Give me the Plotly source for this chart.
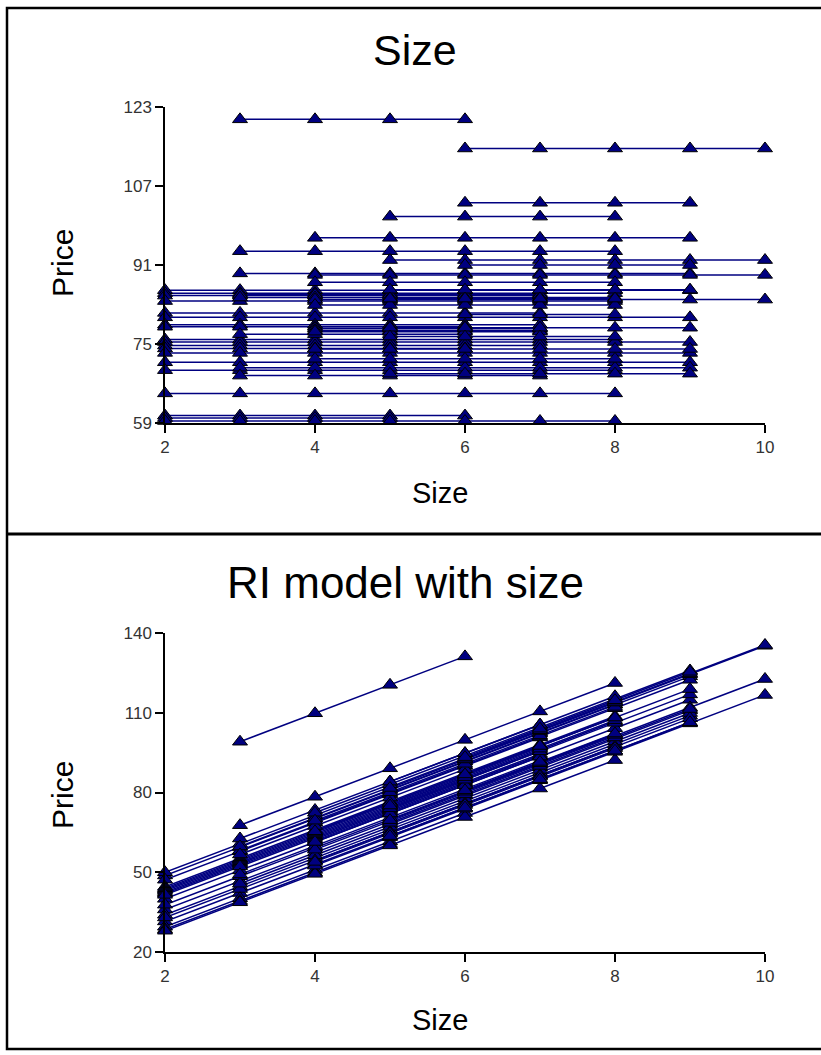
import plotly.graph_objects as go

# ---------------- data ----------------
# one entry per subject: first size, last size, observed (constant) price
subject_start_size = [2, 2, 2, 2, 2, 2, 2, 2, 2, 2, 2, 2, 2, 2, 2, 2, 2, 2, 2,
                      3, 3, 3, 3, 3, 3, 3, 3,
                      4, 4, 4, 4, 4, 4, 4, 4, 4, 4,
                      5, 5, 5, 5, 5, 5, 5,
                      6, 6, 6, 6]
subject_end_size = [9, 8, 7, 8, 7, 9, 7, 6, 8, 9, 7, 6, 9, 9, 8, 8, 6, 5, 8,
                    6, 8, 9, 7, 8, 6, 9, 7,
                    9, 10, 10, 8, 7, 7, 7, 8, 9, 8,
                    8, 10, 9, 8, 9, 8, 9,
                    10, 9, 9, 8]
subject_price = [85.9, 85.3, 84.8, 83.7, 81.3, 80.4, 78.9, 78.5, 75.9, 75.4,
                 74.7, 74.1, 73.2, 71.3, 69.7, 65.0, 60.5, 60.0, 59.4,
                 120.5, 93.8, 89.3, 85.0, 84.4, 77.0, 70.2, 68.6,
                 96.5, 89.0, 84.0, 87.5, 78.2, 77.8, 77.5, 82.9, 74.0, 72.0,
                 100.8, 92.0, 86.0, 84.2, 78.3, 76.5, 69.0,
                 114.6, 103.6, 91.0, 81.0]
# random-intercept model: fitted price of each subject at size 2, common size slope
ri_fit_at_size2 = [48.8, 50.0, 47.2, 44.5, 44.0, 40.0, 43.5, 43.0, 42.5, 36.0,
                   42.0, 41.5, 34.0, 31.5, 37.8, 33.0, 29.5, 28.5, 28.0,
                   88.4, 57.0, 47.5, 52.0, 49.0, 46.0, 35.0, 38.5,
                   51.0, 37.1, 31.1, 48.0, 41.0, 40.5, 40.0, 44.0, 33.0, 32.5,
                   52.0, 49.6, 42.0, 43.0, 36.5, 37.5, 31.5,
                   49.9, 50.5, 44.0, 38.0]
ri_size_slope = 10.7

top_y_ticks = [59, 75, 91, 107, 123]
bottom_y_ticks = [20, 50, 80, 110, 140]
x_ticks = [2, 4, 6, 8, 10]

# ---------------- build traces ----------------
W, H = 821, 1055


def fx(x):
    return x / W


def fy(y):
    return 1 - y / H


xs_top, ys_top, xs_bot, ys_bot = [], [], [], []
for s, e, p, a in zip(subject_start_size, subject_end_size, subject_price, ri_fit_at_size2):
    sizes = list(range(s, e + 1))
    xs_top += sizes + [None]
    ys_top += [p] * len(sizes) + [None]
    xs_bot += sizes + [None]
    ys_bot += [a + ri_size_slope * (z - 2) for z in sizes] + [None]

NAVY = "#000080"
line_style = dict(color=NAVY, width=1.5)
marker_style = dict(symbol="triangle-up", size=13, color=NAVY,
                    line=dict(color="black", width=1))

fig = go.Figure()
fig.add_trace(go.Scatter(x=xs_top, y=ys_top, mode="lines+markers", line=line_style,
                         marker=marker_style, cliponaxis=False, connectgaps=False,
                         showlegend=False, xaxis="x", yaxis="y"))
fig.add_trace(go.Scatter(x=xs_bot, y=ys_bot, mode="lines+markers", line=line_style,
                         marker=marker_style, cliponaxis=False, connectgaps=False,
                         showlegend=False, xaxis="x2", yaxis="y2"))

FONT = "Liberation Sans, Arial, sans-serif"
tickfont = dict(family=FONT, size=17, color="#333333")
axis_common = dict(showline=True, linecolor="black", linewidth=1.5, ticks="outside",
                   ticklen=8, tickwidth=1.5, tickcolor="black", showgrid=False,
                   zeroline=False, tickfont=tickfont, fixedrange=True, automargin=False)

xdom = [fx(165), fx(765)]
fig.update_layout(
    width=W, height=H,
    margin=dict(l=0, r=0, t=0, b=0, pad=0, autoexpand=False),
    paper_bgcolor="white", plot_bgcolor="white",
    xaxis=dict(domain=xdom, range=[2, 10], tickvals=x_ticks, anchor="y", **axis_common),
    yaxis=dict(domain=[fy(423), fy(107)], range=[59, 123], tickvals=top_y_ticks,
               anchor="x", **axis_common),
    xaxis2=dict(domain=xdom, range=[2, 10], tickvals=x_ticks, anchor="y2", **axis_common),
    yaxis2=dict(domain=[fy(952), fy(633)], range=[20, 140], tickvals=bottom_y_ticks,
                anchor="x2", **axis_common),
)

# frame and divider
fig.add_shape(type="rect", xref="paper", yref="paper", x0=fx(7), x1=fx(823),
              y0=fy(1049), y1=fy(8), line=dict(color="black", width=2.5))
fig.add_shape(type="line", xref="paper", yref="paper", x0=fx(7), x1=fx(823),
              y0=fy(534), y1=fy(534), line=dict(color="black", width=3))

ann = [
    ("Size", 415, 50, 43, 0),
    ("Price", 62, 263, 30, -90),
    ("Size", 440, 493, 29, 0),
    ("RI model with size", 405, 582, 44, 0),
    ("Price", 62, 795, 30, -90),
    ("Size", 440, 1020, 29, 0),
]
for text, x, y, size, ang in ann:
    fig.add_annotation(text=text, x=fx(x), y=fy(y), xref="paper", yref="paper",
                       showarrow=False, xanchor="center", yanchor="middle",
                       textangle=ang, font=dict(family=FONT, size=size, color="black"))

fig.write_html("out.html")
